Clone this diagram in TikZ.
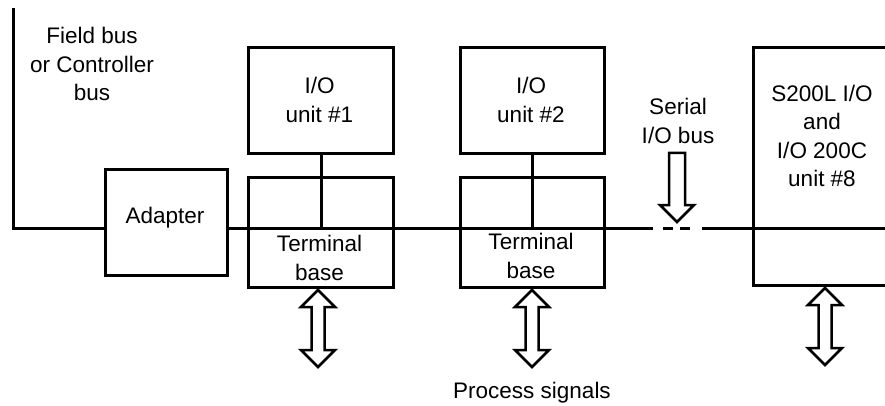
\documentclass[tikz,border=0pt]{standalone}
\usepackage{fontspec}
\setmainfont{Liberation Sans}
\begin{document}
\begin{tikzpicture}[x=1pt,y=-1pt,line width=3pt,
  box/.style={draw,line width=3pt,inner sep=0pt,anchor=north west},
  lbl/.style={align=center,font=\fontsize{22.5}{28.5}\selectfont,inner sep=0pt},
  hollow/.style={draw,line width=2.5pt,fill=white,line join=miter},
  dblarrow/.pic={\draw[hollow] (0,0) -- (17,17) -- (6.5,17) -- (6.5,60) -- (17,60) -- (0,77) -- (-17,60) -- (-6.5,60) -- (-6.5,17) -- (-17,17) -- cycle;}]
\useasboundingbox (0,0) rectangle (885,406);

% boxes
\node[box,minimum width=122,minimum height=106] (adapter) at (104,168) {};
\node[box,minimum width=145,minimum height=106] (unit1) at (247,46) {};
\node[box,minimum width=145,minimum height=110] (tb1) at (247,176) {};
\node[box,minimum width=144,minimum height=106] (unit2) at (459,46) {};
\node[box,minimum width=144,minimum height=110] (tb2) at (459,176) {};
\node[box,minimum width=200,minimum height=238] (unit8) at (752,46) {};

% texts
\node[lbl] (fbtext) at (92,64) {Field bus\\or Controller\\bus};
\node[lbl] (adtext) at (165,218) {Adapter};
\node[lbl] (u1text) at (319.5,100) {I/O\\unit \#1};
\node[lbl] (tb1text) at (319.5,258) {Terminal\\base};
\node[lbl] (u2text) at (531,100) {I/O\\unit \#2};
\node[lbl] (tb2text) at (531,256) {Terminal\\base};
\node[lbl] (sertext) at (678,121) {Serial\\I/O bus};
\node[lbl] (u8text) at (822,136) {S200L I/O\\and\\I/O 200C\\unit \#8};
\node[lbl] (pstext) at (532,393) {Process signals};

% bus
\coordinate (fbtop) at (13,8);
\coordinate (busL) at (13,228);
\coordinate (gapA) at (653,228);
\coordinate (gapB) at (702,228);
\coordinate (busR) at (890,228);
\draw (fbtop) -- (busL) -- (busL -| adapter.west);
\draw (adapter.east |- busL) -- (gapA);
\draw[dash pattern={on 0pt off 10pt on 10pt off 7pt on 10pt off 20pt}] (gapA) -- (gapB);
\draw (gapB) -- (busR);

% unit to bus links
\draw (unit1.south) -- (unit1.south |- busL);
\draw (unit2.south) -- (unit2.south |- busL);

% serial bus arrow
\draw[hollow] (669,153) -- (685,153) -- (685,205) -- (694,205) -- (677,222) -- (660,205) -- (669,205) -- cycle;

% process signal arrows
\pic at (318,290) {dblarrow};
\pic at (532,290) {dblarrow};
\pic at (825,288) {dblarrow};
\end{tikzpicture}
\end{document}
